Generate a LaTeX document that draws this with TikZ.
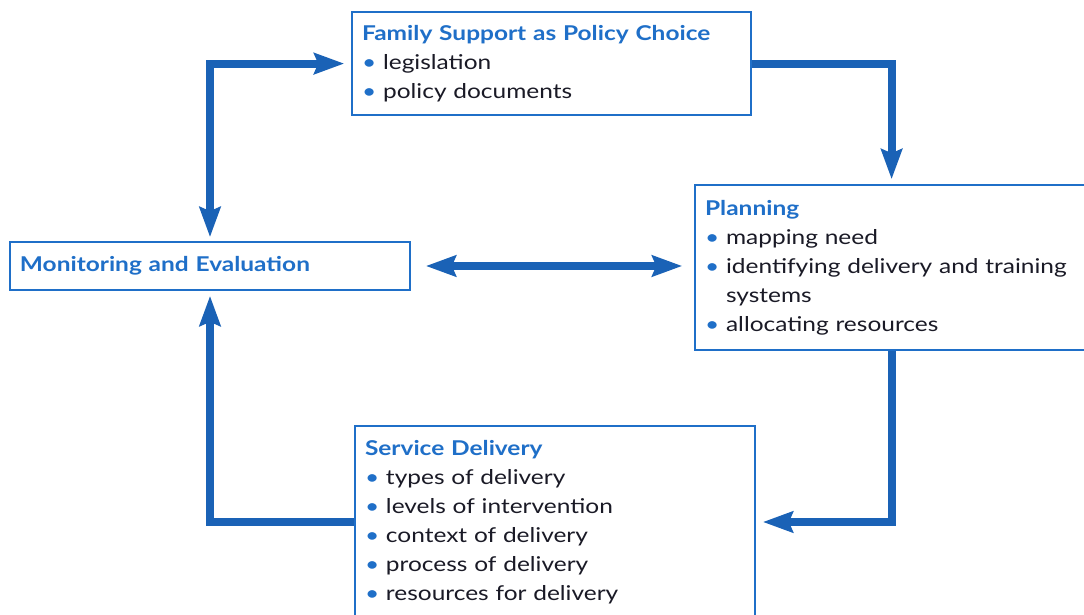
\documentclass[tikz,border=0pt]{standalone}
\usepackage{fontspec}
\setmainfont{Lato}[FakeStretch=1.2]
\usepackage{tikz}
\usetikzlibrary{arrows.meta,positioning,calc}
\definecolor{CycBlue}{HTML}{1A62B6}
\definecolor{CycTitle}{HTML}{1F6FC8}
\definecolor{CycInk}{HTML}{1A1A26}
\newcommand{\itm}[1]{\textcolor{CycTitle}{\textbullet}\ #1}
\newcommand{\hd}[1]{\textbf{\textcolor{CycTitle}{#1}}}
\tikzset{
  cyclabel/.style={font=\fontsize{14.5}{20.6}\selectfont, text=CycInk},
  cycbox/.style={draw=CycTitle, line width=1.2pt, fill=white, align=left, inner xsep=0.25cm, inner ysep=0pt},
  cyctip/.tip={Stealth[length=0.75cm, width=0.52cm, inset=0.1cm]},
  cycarrow/.style={-cyctip, line width=0.2cm, draw=CycBlue},
  cycboth/.style={cyctip-cyctip, line width=0.2cm, draw=CycBlue}
}
\begin{document}
\begin{tikzpicture}[every node/.style={cyclabel}]
\useasboundingbox[fill=white] (0,0) rectangle (27.1,15.35);
% the four stages
\node[cycbox, minimum width=9.975cm, minimum height=2.575cm, text width=9.475cm] (policy) at (13.79,13.76)
  {\hd{Family Support as Policy Choice}\\ \itm{legislation}\\ \itm{policy documents}};
\node[cycbox, minimum width=9.825cm, minimum height=4.125cm, text width=9.325cm] (plan) at (22.29,8.66)
  {\hd{Planning}\\ \itm{mapping need}\\
   \itm{\makebox[8.7cm][s]{identifying delivery and training}}\\
   \phantom{\textbullet\ }systems\\ \itm{allocating resources}};
\node[cycbox, minimum width=10cm, minimum height=4.8cm, text width=9.5cm] (serv) at (13.875,2.3)
  {\hd{Service Delivery}\\ \itm{types of delivery}\\ \itm{levels of intervention}\\
   \itm{context of delivery}\\ \itm{process of delivery}\\ \itm{resources for delivery}};
\node[cycbox, minimum width=10cm, minimum height=1.2cm, text width=9.5cm] (mon) at (5.25,8.7)
  {\hd{Monitoring and Evaluation}};
% cycle arrows
\draw[cycboth, shorten <=0.1cm, shorten >=0.175cm] (mon.north) |- (policy.west);
\draw[cycarrow, shorten >=0.125cm] (policy.east) -| (plan.north);
\draw[cycarrow, shorten >=0.175cm] (plan.south) |- (serv.east);
\draw[cycarrow, shorten >=0.125cm] (serv.west) -| (mon.south);
\draw[cycboth, shorten <=0.375cm, shorten >=0.3cm] (mon.east) -- (mon.east -| plan.west);
\end{tikzpicture}
\end{document}
